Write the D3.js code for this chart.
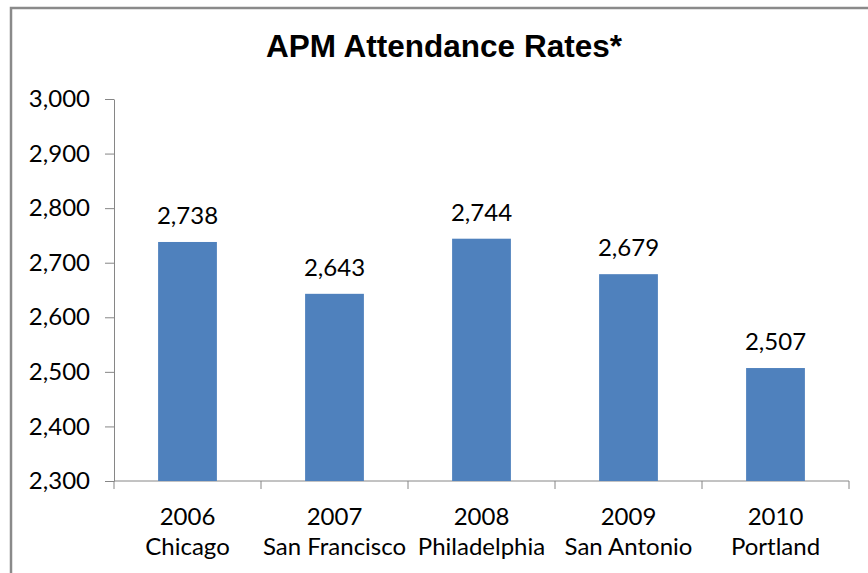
<!DOCTYPE html>
<html>
<head>
<meta charset="utf-8">
<script src="https://cdn.jsdelivr.net/npm/d3@7"></script>
<style>
  body { margin: 0; background: #fff; }
  svg { display: block; }
  .tick text, .lbl { font-family: Lato, "Open Sans", sans-serif; fill: #000; }
</style>
</head>
<body>
<svg id="chart"></svg>
<script>
// data
const years = ["2006", "2007", "2008", "2009", "2010"];
const cities = ["Chicago", "San Francisco", "Philadelphia", "San Antonio", "Portland"];
const attendance = [2738, 2643, 2744, 2679, 2507];
const yTicks = [2300, 2400, 2500, 2600, 2700, 2800, 2900, 3000];

const config = {
    width: 868,
    height: 573,
    margin: { top: 99, right: 19, bottom: 92, left: 114 },
    fontSize: "24px"
};

const innerW = config.width - config.margin.left - config.margin.right;
const innerH = config.height - config.margin.top - config.margin.bottom;

const svg = d3.select("#chart")
    .attr("width", config.width)
    .attr("height", config.height);

// outer chart border (cropped at right/bottom in the original)
svg.append("rect")
    .attr("x", 11)
    .attr("y", 8)
    .attr("width", config.width + 20)
    .attr("height", config.height + 20)
    .attr("fill", "none")
    .attr("stroke", "#8a8a8a")
    .attr("stroke-width", 2.5);

svg.append("text")
    .attr("x", 444)
    .attr("y", 57)
    .attr("text-anchor", "middle")
    .style("font-family", "'Liberation Sans', Arial, sans-serif")
    .style("font-weight", "bold")
    .style("font-size", "31.5px")
    .text("APM Attendance Rates*");

const chart = svg.append("g")
    .attr("transform", `translate(${config.margin.left},${config.margin.top})`);

const x = d3.scaleBand()
    .domain(years)
    .range([0, innerW])
    .paddingInner(0.6)
    .paddingOuter(0.3);

const y = d3.scaleLinear()
    .domain([2300, 3000])
    .range([innerH, 0]);

// y axis
const yAxis = chart.append("g")
    .call(d3.axisLeft(y)
        .tickValues(yTicks)
        .tickFormat(d3.format(","))
        .tickSize(9)
        .tickSizeOuter(0)
        .tickPadding(15));
yAxis.selectAll("line, path").attr("stroke", "#868686");
yAxis.selectAll("text").style("font-size", config.fontSize);

// x axis: ticks sit between categories like Excel
const step = x.step();
const xAxis = chart.append("g").attr("transform", `translate(0,${innerH})`);
xAxis.append("line")
    .attr("x1", 0).attr("x2", innerW)
    .attr("stroke", "#868686");
xAxis.selectAll(".sep")
    .data(d3.range(years.length + 1))
    .join("line")
    .attr("class", "sep")
    .attr("x1", i => i * step)
    .attr("x2", i => i * step)
    .attr("y1", 0)
    .attr("y2", 8)
    .attr("stroke", "#868686");

const catLabels = xAxis.selectAll(".cat")
    .data(years)
    .join("text")
    .attr("class", "lbl cat")
    .attr("text-anchor", "middle")
    .style("font-size", config.fontSize)
    .attr("x", d => x(d) + x.bandwidth() / 2);
catLabels.append("tspan")
    .attr("x", d => x(d) + x.bandwidth() / 2)
    .attr("y", 44)
    .text(d => d);
catLabels.append("tspan")
    .attr("x", d => x(d) + x.bandwidth() / 2)
    .attr("y", 74)
    .text((d, i) => cities[i]);

// bars
chart.selectAll(".bar")
    .data(attendance)
    .join("rect")
    .attr("class", "bar")
    .attr("x", (d, i) => x(years[i]))
    .attr("width", x.bandwidth())
    .attr("y", d => y(d))
    .attr("height", d => innerH - y(d))
    .attr("fill", "#4f81bd");

// value labels
chart.selectAll(".val")
    .data(attendance)
    .join("text")
    .attr("class", "lbl val")
    .attr("text-anchor", "middle")
    .style("font-size", config.fontSize)
    .attr("x", (d, i) => x(years[i]) + x.bandwidth() / 2)
    .attr("y", d => y(d) - 18)
    .text(d => d3.format(",")(d));
</script>
</body>
</html>
